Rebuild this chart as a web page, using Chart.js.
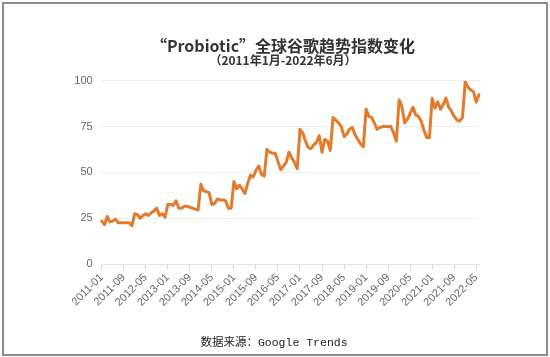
<!DOCTYPE html>
<html>
<head>
<meta charset="utf-8">
<script src="https://cdn.jsdelivr.net/npm/chart.js@4"></script>
<style>
html,body{margin:0;padding:0;background:#fff;}
#wrap{position:relative;width:550px;height:357px;overflow:hidden;}
#frame{position:absolute;left:2px;top:2px;width:542px;height:350px;border:2px solid #8c8c8c;pointer-events:none;}
canvas{position:absolute;left:0;top:0;}
</style>
</head>
<body>
<div id="wrap"><canvas id="c" width="550" height="357"></canvas><div id="frame"></div></div>
<script>
// ---- data (Google Trends index, monthly) ----
const titleText = '“Probiotic”全球谷歌趋势指数变化';
const subtitleText = '（2011年1月-2022年6月）';
const sourceText = '数据来源：Google Trends';

const years = [2011, 2012, 2013, 2014, 2015, 2016, 2017, 2018, 2019, 2020, 2021, 2022];
const v2011 = [23.5, 21.5, 26, 23, 23.5, 24.5, 22.5, 22.5, 22.5, 22.5, 22.5, 21];
const v2012 = [27.5, 27, 25, 26.5, 27.5, 26.5, 28, 29, 30.5, 26.5, 27.5, 25.5];
const v2013 = [32.5, 32.5, 32, 34.5, 30.5, 30.5, 31.5, 31.5, 31, 30.5, 30, 29.5];
const v2014 = [43.5, 40, 39.5, 39, 32.5, 33, 35.5, 35, 35, 34.5, 30.5, 30.5];
const v2015 = [45, 41, 43, 41, 38.5, 44, 48.5, 47.5, 51, 53.5, 49, 48];
const v2016 = [62.5, 61, 60.5, 60.5, 56, 51.5, 53.5, 55.5, 61, 58, 55.5, 52];
const v2017 = [73.5, 71.5, 67, 63.5, 63, 65, 66.5, 70, 61, 68, 67, 62];
const v2018 = [80, 78.5, 77, 75, 69.5, 71, 73.5, 74.5, 70.5, 68, 65.5, 64];
const v2019 = [84.5, 80.5, 80, 77, 73.5, 74.5, 75, 75, 75, 75, 71.5, 67];
const v2020 = [89.5, 86, 77, 79, 82, 85.5, 81.5, 80.5, 78, 73, 69, 69];
const v2021 = [90.5, 85, 88.5, 84.5, 87, 90.5, 85.5, 83.5, 80.5, 78.5, 78, 80];
const v2022 = [99.6, 96.5, 95, 94, 88.3, 92.4];

const tickLabels = ['2011-01','2011-09','2012-05','2013-01','2013-09','2014-05','2015-01','2015-09','2016-05',
                    '2017-01','2017-09','2018-05','2019-01','2019-09','2020-05','2021-01','2021-09','2022-05'];
const yTicks = [0, 25, 50, 75, 100];

// ---- build series ----
const yearly = [v2011, v2012, v2013, v2014, v2015, v2016, v2017, v2018, v2019, v2020, v2021, v2022];
const values = [];
const categories = [];
yearly.forEach((arr, yi) => {
  arr.forEach((v, mi) => {
    values.push(v);
    categories.push(years[yi] + '-' + String(mi + 1).padStart(2, '0'));
  });
});
const TICK_EVERY = 8;

const labelFont = { family: '"Liberation Sans", Arial, sans-serif', size: 11 };
const cjkFont = '"Noto Sans CJK SC", "Noto Sans", sans-serif';

const sourcePlugin = {
  id: 'sourceNote',
  afterLayout(chart) {
    // widen the y-scale label clip box leftwards so the tick labels are not cut
    const y = chart.scales.y;
    y.left = 40;
  },
  afterDraw(chart) {
    const ctx = chart.ctx;
    ctx.save();
    ctx.font = '11.5px "Liberation Mono", "Noto Sans CJK SC", monospace';
    ctx.fillStyle = '#222';
    ctx.textAlign = 'center';
    ctx.textBaseline = 'middle';
    ctx.fillText(sourceText, 274, 343);
    ctx.restore();
  }
};

new Chart(document.getElementById('c'), {
  type: 'line',
  data: {
    labels: categories,
    datasets: [{
      label: 'Probiotic',
      data: values,
      borderColor: '#E27B2C',
      backgroundColor: '#E27B2C',
      borderWidth: 3,
      pointRadius: 0,
      pointHoverRadius: 0,
      tension: 0,
      borderJoinStyle: 'round',
      borderCapStyle: 'round',
      fill: false
    }]
  },
  options: {
    responsive: false,
    animation: false,
    devicePixelRatio: 1,
    layout: { padding: { left: 87, right: 71, top: 0, bottom: 46 } },
    plugins: {
      legend: { display: false },
      tooltip: { enabled: false },
      title: {
        display: true,
        text: titleText,
        color: '#333',
        font: { family: cjkFont, size: 16, weight: 'bold', lineHeight: 1 },
        padding: { top: 37.6, bottom: 0 }
      },
      subtitle: {
        display: true,
        text: subtitleText,
        color: '#333',
        font: { family: cjkFont, size: 12, weight: 'bold', lineHeight: 1 },
        padding: { top: 0.8, bottom: 14.3 }
      }
    },
    scales: {
      x: {
        type: 'category',
        offset: false,
        grid: {
          display: true,
          drawOnChartArea: false,
          drawTicks: true,
          tickLength: 5,
          tickColor: (ctx) => (ctx.index % TICK_EVERY === 0 ? '#d4d4d4' : 'rgba(0,0,0,0)')
        },
        border: { display: true, color: '#e2e2e2' },
        ticks: {
          autoSkip: false,
          maxRotation: 45,
          minRotation: 45,
          padding: 2,
          color: '#666',
          font: labelFont,
          callback: (v, i) => (i % TICK_EVERY === 0 ? tickLabels[i / TICK_EVERY] : '')
        }
      },
      y: {
        min: yTicks[0],
        max: yTicks[yTicks.length - 1],
        afterBuildTicks: (s) => { s.ticks = yTicks.map(v => ({ value: v })); },
        afterFit: (s) => { s.width = 14.7; },
        ticks: { padding: 9, color: '#666', font: labelFont },
        grid: { color: '#eeeeee', drawTicks: false },
        border: { display: false }
      }
    }
  },
  plugins: [sourcePlugin]
});
</script>
</body>
</html>
